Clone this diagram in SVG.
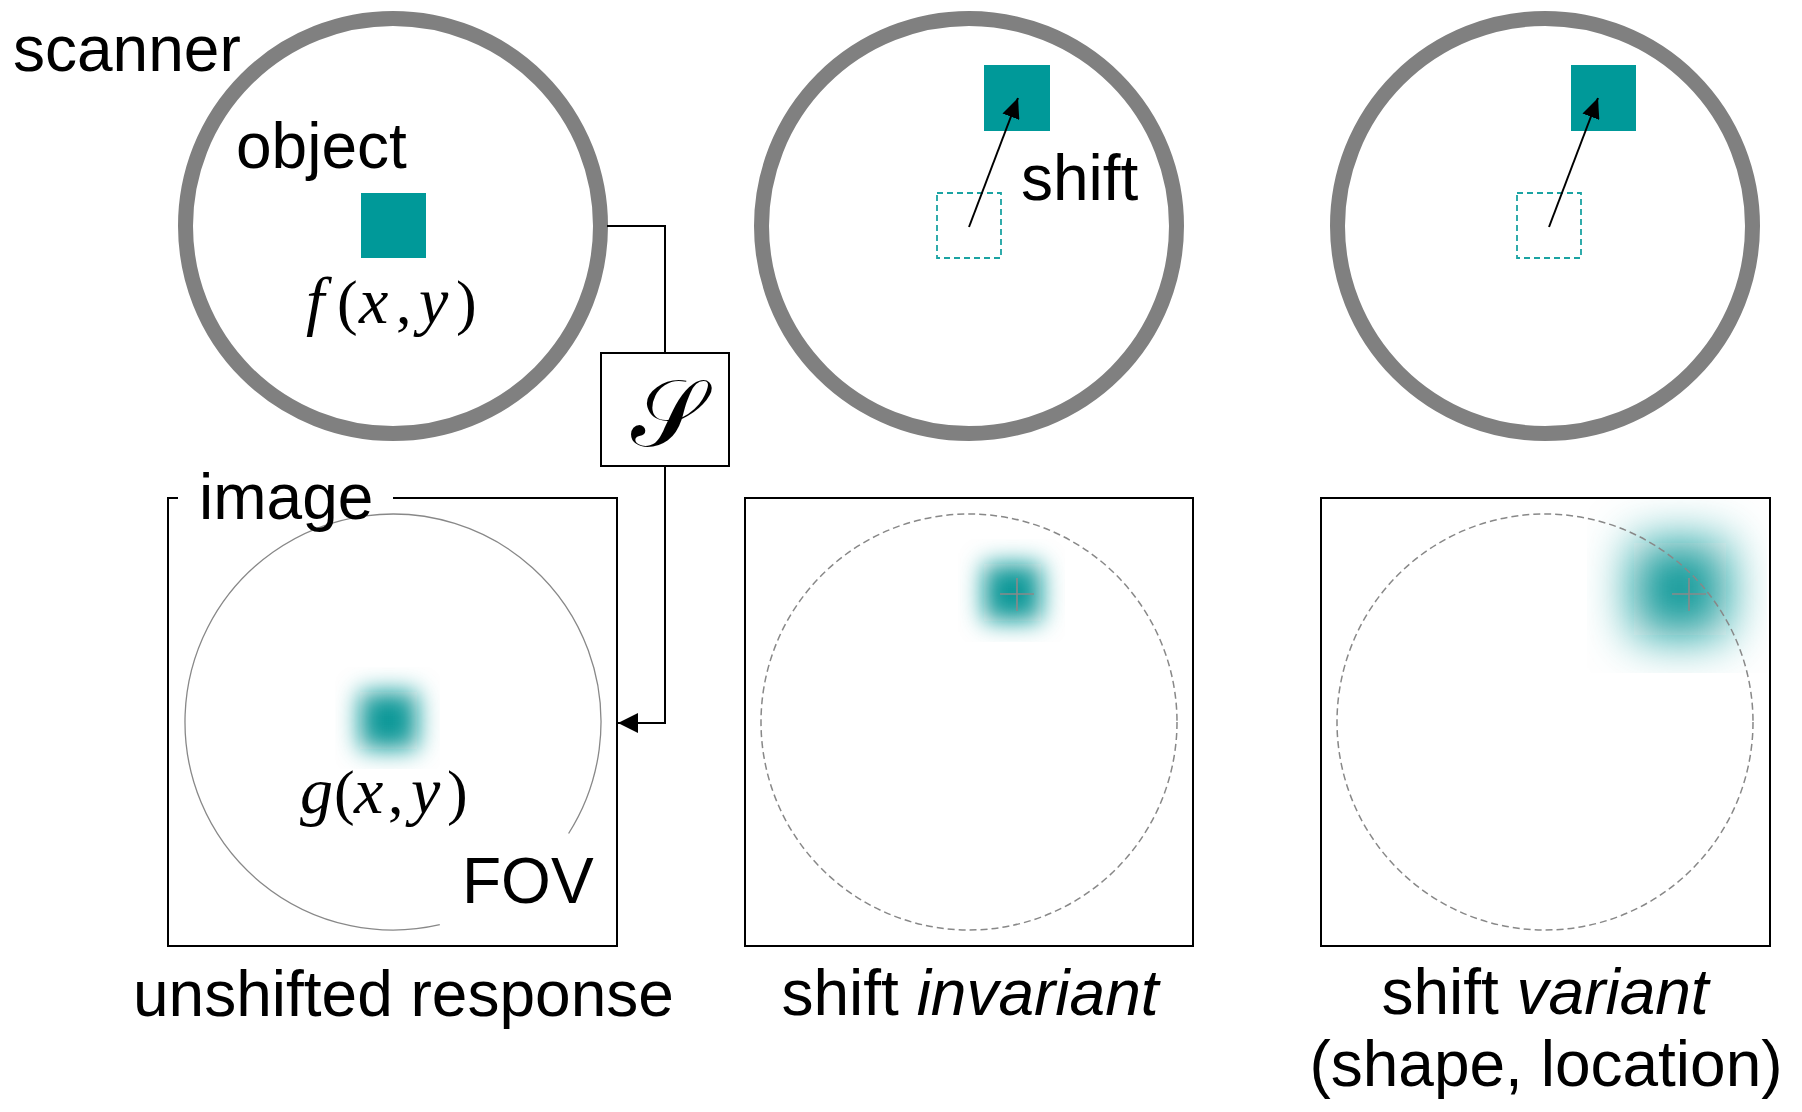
<svg xmlns="http://www.w3.org/2000/svg" width="1802" height="1112" viewBox="0 0 1802 1112">
<style>
.lbl{font-family:"Liberation Sans",Arial,sans-serif;font-size:64px;fill:#000}
.math{font-family:"Liberation Serif","Times New Roman",serif;font-size:62px;fill:#000}
.it{font-style:italic;font-size:66px}
.ring{fill:#fff;stroke:#808080;stroke-width:15}
.obj{fill:#009999}
.ghost{fill:none;stroke:#1aa3a3;stroke-width:1.8;stroke-dasharray:6 4}
.frame{fill:#fff;stroke:#000;stroke-width:2}
.fov{fill:none;stroke:#888;stroke-width:1.3}
.fovd{fill:none;stroke:#888;stroke-width:1.5;stroke-dasharray:7 4}
.cross{stroke:#8a8a8a;stroke-width:1.6}
.blob{fill:#0f9898}
.conn{fill:none;stroke:#000;stroke-width:2}
.li{font-style:italic}
</style>
<defs>
<marker id="ah" markerUnits="userSpaceOnUse" markerWidth="22" markerHeight="20" refX="20" refY="10" orient="auto">
<path d="M0,0 L20,10 L0,20 Z" fill="#000"/>
</marker>
<marker id="ahs" markerUnits="userSpaceOnUse" markerWidth="22" markerHeight="18" refX="20" refY="9" orient="auto">
<path d="M0,0 L20,9 L0,18 Z" fill="#000"/>
</marker>
<filter id="b1" filterUnits="userSpaceOnUse" x="335" y="667" width="105" height="102"><feGaussianBlur stdDeviation="12"/></filter>
<filter id="b2" filterUnits="userSpaceOnUse" x="958" y="539" width="107" height="103"><feGaussianBlur stdDeviation="12"/></filter>
<filter id="b3" filterUnits="userSpaceOnUse" x="1587" y="500" width="180" height="173"><feGaussianBlur stdDeviation="25"/></filter>
</defs>

<g id="scanner1">
<circle class="ring" cx="393" cy="226" r="207.5"/>
<text class="lbl" x="13" y="71">scanner</text>
<text class="lbl" x="236" y="168">object</text>
<rect class="obj" x="361" y="193" width="65" height="65"/>
<text class="math"><tspan class="it" x="306" y="323">f</tspan><tspan x="337" y="323">(</tspan><tspan class="it" x="359" y="323">x</tspan><tspan x="396" y="323">,</tspan><tspan class="it" x="419" y="323">y</tspan><tspan x="456" y="323">)</tspan></text>
</g>

<g id="scanner2">
<circle class="ring" cx="969" cy="226" r="207.5"/>
<rect class="ghost" x="937" y="193" width="64" height="65"/>
<rect class="obj" x="984" y="65" width="66" height="66"/>
<line class="conn" x1="969" y1="227" x2="1018" y2="98" marker-end="url(#ahs)"/>
<text class="lbl" x="1021" y="200">shift</text>
</g>

<g id="scanner3">
<circle class="ring" cx="1545" cy="226" r="207.5"/>
<rect class="ghost" x="1517" y="193" width="64" height="65"/>
<rect class="obj" x="1571" y="65" width="65" height="66"/>
<line class="conn" x1="1549" y1="227" x2="1598" y2="98" marker-end="url(#ahs)"/>
</g>

<g id="operator">
<rect class="frame" x="601" y="353" width="128" height="113"/>
<text x="667" y="446" text-anchor="middle" style="font-family:'DejaVu Serif','DejaVu Sans','Noto Sans',serif;font-size:94px">𝒮</text>
</g>

<g id="image1">
<path class="conn" d="M178,498 H168 V946 H617 V498 H393"/>
<path class="fov" d="M439.8,924.7 A208,208 0 1 1 568.6,833.5"/>
<rect class="blob" x="360" y="692" width="57" height="57" filter="url(#b1)"/>
<text class="lbl" x="199" y="519">image</text>
<text class="math"><tspan class="it" x="300" y="813">g</tspan><tspan x="334" y="813">(</tspan><tspan class="it" x="354" y="813">x</tspan><tspan x="388" y="813">,</tspan><tspan class="it" x="411" y="813">y</tspan><tspan x="447" y="813">)</tspan></text>
<text class="lbl" x="462" y="903">FOV</text>
<text class="lbl" x="133" y="1016">unshifted response</text>
</g>

<g id="image2">
<rect class="frame" x="745" y="498" width="448" height="448"/>
<circle class="fovd" cx="969" cy="722" r="208"/>
<rect class="blob" x="984" y="564" width="57" height="57" filter="url(#b2)"/>
<line class="cross" x1="1000" y1="594" x2="1034" y2="594"/>
<line class="cross" x1="1017" y1="578" x2="1017" y2="611"/>
<text class="lbl" x="970" y="1015" text-anchor="middle">shift <tspan class="li">invariant</tspan></text>
</g>

<g id="image3">
<rect class="frame" x="1321" y="498" width="449" height="448"/>
<rect class="blob" x="1634" y="543" width="92" height="92" filter="url(#b3)"/>
<circle class="fovd" cx="1545" cy="722" r="208"/>
<line class="cross" x1="1672" y1="594" x2="1706" y2="594"/>
<line class="cross" x1="1689" y1="578" x2="1689" y2="611"/>
<text class="lbl" x="1545" y="1014" text-anchor="middle">shift <tspan class="li">variant</tspan></text>
<text class="lbl" x="1546" y="1086" text-anchor="middle">(shape, location)</text>
</g>

<g id="connectors">
<path class="conn" d="M607,226 H665 V353"/>
<path class="conn" d="M665,466 V723 H618" marker-end="url(#ah)"/>
</g>
</svg>
